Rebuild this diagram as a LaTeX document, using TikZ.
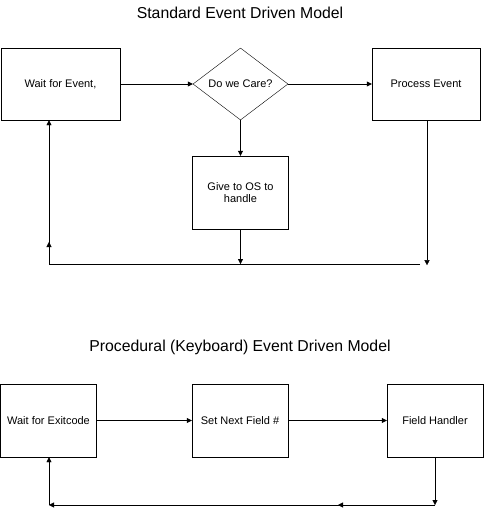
\documentclass[tikz,border=0pt]{standalone}
\usepackage{fontspec}
\setmainfont{Liberation Sans}
\usetikzlibrary{shapes.geometric}
\usetikzlibrary{arrows.meta}

\begin{document}
\begin{tikzpicture}[x=1pt,y=-1pt,thin,>={Triangle[length=5pt,width=5pt]},
procbox/.style={draw,rectangle,inner sep=2pt,minimum width=96pt,minimum height=73pt,font=\fontsize{11}{12}\selectfont,align=center},
decide/.style={draw,diamond,inner sep=0pt,minimum width=95pt,minimum height=72pt,font=\fontsize{11}{12}\selectfont},
heading/.style={font=\fontsize{15.8}{18}\selectfont}]

\useasboundingbox (0,0) rectangle (484,509);

% standard model
\draw (240,13) node[heading] (T1) {Standard Event Driven Model};
\draw (60.5,84) node[procbox,minimum width=119pt,minimum height=72pt] (WaitEvt) {Wait for Event,};
\draw (240.5,84) node[decide] (Care) {Do we Care?};
\draw (426,84) node[procbox,minimum width=108pt,minimum height=72pt] (ProcEvt) {Process Event};
\draw (240.5,192.5) node[procbox] (GiveOS) {Give to OS to\\handle};

\coordinate (loopL) at (49,264);
\coordinate (loopR) at (420,264);

\draw[->] (WaitEvt) -- (Care);
\draw[->] (Care) -- (ProcEvt);
\draw[->] (Care) -- (GiveOS);
\draw[->] (GiveOS) -- (GiveOS |- loopL);
\draw[->] (ProcEvt.south) ++(1,0) -- ++(0,145);
\draw (loopR) -- (loopL);
\draw[->] (loopL) -- ++(0,-22);
\draw[->] (loopL) -- (WaitEvt.south -| loopL);

% procedural model
\draw (240,347) node[heading] (T2) {Procedural (Keyboard) Event Driven Model};
\draw (48.5,420.5) node[procbox] (WaitExit) {Wait for Exitcode};
\draw (240,420.5) node[procbox] (SetField) {Set Next Field \#};
\draw (435,420.5) node[procbox] (FieldH) {Field Handler};

\coordinate (retR) at (435,505);
\coordinate (retL) at (49,505);

\draw[->] (WaitExit) -- (SetField);
\draw[->] (SetField) -- (FieldH);
\draw[->] (FieldH) -- (retR);
\draw[->] (retR) -- ++(-97,0);
\draw[->] (retR) -- (retL);
\draw[->] (retL) -- (WaitExit.south -| retL);

\end{tikzpicture}
\end{document}
